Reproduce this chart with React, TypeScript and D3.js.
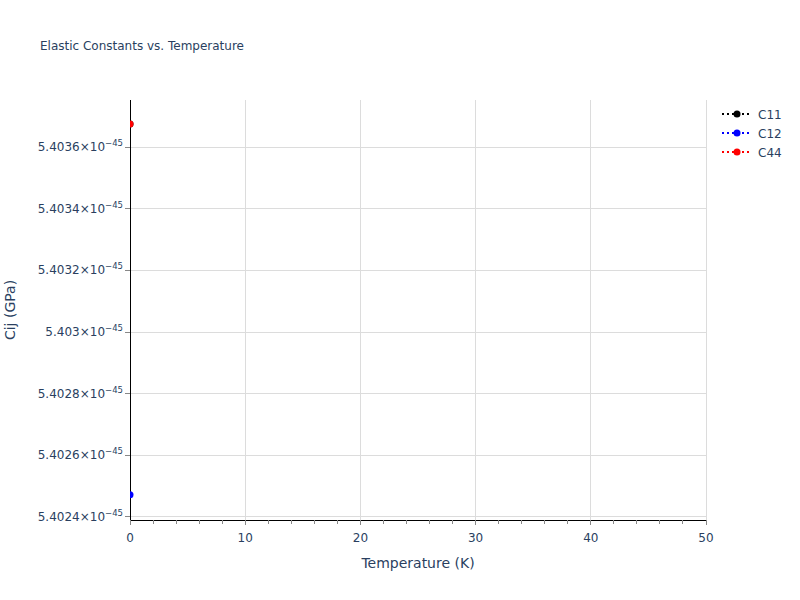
import * as d3 from 'd3';

// temperatures (K) and elastic constants (GPa)
const temperatures = [0];
const c11 = [5.403675e-45];
const c12 = [5.402472e-45];
const c44 = [5.403675e-45];

const seriesNames = ['C11', 'C12', 'C44'];
const seriesColors = ['black', 'blue', 'red'];

const xTicks = [0, 10, 20, 30, 40, 50];
const xMinorTicks = d3.range(0, 51, 2);
const yTicks = [5.4024e-45, 5.4026e-45, 5.4028e-45, 5.403e-45, 5.4032e-45, 5.4034e-45, 5.4036e-45];
const yTickMantissas = ['5.4024', '5.4026', '5.4028', '5.403', '5.4032', '5.4034', '5.4036'];

const W = 800;
const H = 600;
const m = { left: 130, right: 706, top: 100, bottom: 520 };
const font = '"DejaVu Sans", verdana, arial, sans-serif';
const textColor = '#2a3f5f';

export default function App() {
  const x = d3.scaleLinear().domain([0, 50]).range([m.left, m.right]);
  const y = d3.scaleLinear().domain([5.40239e-45, 5.403753e-45]).range([m.bottom, m.top]);

  const series = [c11, c12, c44].map((vals, i) => ({
    name: seriesNames[i],
    color: seriesColors[i],
    points: vals.map((v, j) => [temperatures[j], v] as [number, number]),
  }));

  const line = d3.line<[number, number]>().x(d => x(d[0])).y(d => y(d[1]));

  return (
    <svg width={W} height={H} style={{ position: 'absolute', left: 0, top: 0, fontFamily: font }}>
      <rect width={W} height={H} fill="white" />
      <defs>
        <clipPath id="plot">
          <rect x={m.left} y={m.top} width={m.right - m.left} height={m.bottom - m.top} />
        </clipPath>
      </defs>

      <g shapeRendering="crispEdges">
        {/* grid */}
        {xTicks.slice(1).map(t => (
          <line key={'gx' + t} x1={x(t)} x2={x(t)} y1={m.top} y2={m.bottom} stroke="#dcdcdc" />
        ))}
        {yTicks.map(t => (
          <line key={'gy' + t} x1={m.left} x2={m.right} y1={y(t)} y2={y(t)} stroke="#dcdcdc" />
        ))}

        {/* axis lines */}
        <line x1={m.left} x2={m.right} y1={m.bottom} y2={m.bottom} stroke="black" />
        <line x1={m.left} x2={m.left} y1={m.top} y2={m.bottom} stroke="black" />

        {/* ticks */}
        {xMinorTicks.map(t => (
          <line key={'mx' + t} x1={x(t)} x2={x(t)} y1={m.bottom} y2={m.bottom + 4} stroke="#888" />
        ))}
        {xTicks.map(t => (
          <line key={'tx' + t} x1={x(t)} x2={x(t)} y1={m.bottom} y2={m.bottom + 5} stroke="#888" />
        ))}
        {yTicks.map(t => (
          <line key={'ty' + t} x1={m.left - 5} x2={m.left} y1={y(t)} y2={y(t)} stroke="#888" />
        ))}
      </g>

      {xTicks.map(t => (
        <text key={'lx' + t} x={x(t)} y={m.bottom + 22} textAnchor="middle" fontSize={12} fill={textColor}>{t}</text>
      ))}
      {yTicks.map((t, i) => (
        <text key={'ly' + t} x={m.left - 7} y={y(t) + 4} textAnchor="end" fontSize={12} fill={textColor}>
          {yTickMantissas[i]}×10
          <tspan dy={-5} fontSize={8.5}>−45</tspan>
        </text>
      ))}

      {/* data */}
      <g clipPath="url(#plot)">
        {series.map(s => (
          <g key={s.name}>
            <path d={line(s.points) ?? ''} fill="none" stroke={s.color} strokeWidth={2} strokeDasharray="2,3" />
            {s.points.map((p, j) => (
              <circle key={j} cx={x(p[0])} cy={y(p[1])} r={3.5} fill={s.color} />
            ))}
          </g>
        ))}
      </g>

      {/* titles */}
      <text x={40} y={50} fontSize={12} fill={textColor}>Elastic Constants vs. Temperature</text>
      <text x={(m.left + m.right) / 2} y={568} textAnchor="middle" fontSize={14} fill={textColor}>Temperature (K)</text>
      <text transform={`translate(15,${(m.top + m.bottom) / 2}) rotate(-90)`} textAnchor="middle" fontSize={14} fill={textColor}>Cij (GPa)</text>

      {/* legend */}
      {series.map((s, i) => (
        <g key={'lg' + s.name} transform={`translate(722,${114 + i * 19})`}>
          <line x1={0} x2={30} y1={0} y2={0} stroke={s.color} strokeWidth={2} strokeDasharray="2,3" />
          <circle cx={15} cy={0} r={3.5} fill={s.color} />
          <text x={36} y={4.5} fontSize={12} fill={textColor}>{s.name}</text>
        </g>
      ))}
    </svg>
  );
}
